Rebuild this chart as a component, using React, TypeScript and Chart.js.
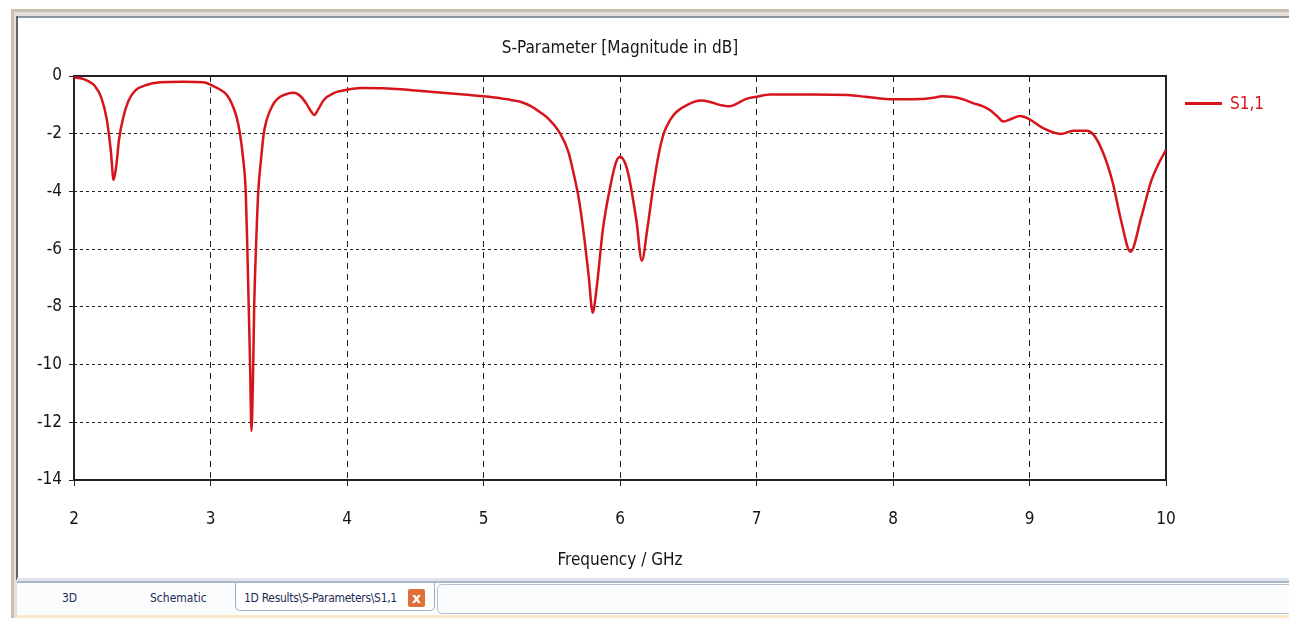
import React, { useEffect, useRef } from "react";
import { Chart, registerables } from "chart.js";

Chart.register(...registerables);

const freqGHz = [
  2.0, 2.05, 2.1, 2.15, 2.2, 2.24, 2.27, 2.29, 2.31, 2.33, 2.36, 2.4, 2.45, 2.53, 2.63, 2.8, 2.95,
  3.02, 3.08, 3.12, 3.16, 3.19, 3.216, 3.24, 3.258, 3.27, 3.28, 3.29, 3.3, 3.313, 3.32, 3.333,
  3.35, 3.37, 3.39, 3.41, 3.436, 3.47, 3.51, 3.56, 3.61, 3.66, 3.7, 3.74, 3.76, 3.79, 3.83, 3.9,
  4.0, 4.1, 4.3, 4.5, 4.7, 4.9, 5.0, 5.1, 5.2, 5.27, 5.35, 5.41, 5.48, 5.56, 5.62, 5.66, 5.7, 5.73,
  5.77, 5.8, 5.83, 5.875, 5.93, 5.97, 6.0, 6.04, 6.07, 6.12, 6.16, 6.2, 6.24, 6.28, 6.32, 6.37,
  6.415, 6.5, 6.59, 6.66, 6.73, 6.8, 6.86, 6.92, 7.0, 7.1, 7.4, 7.67, 7.8, 8.0, 8.2, 8.3, 8.36,
  8.44, 8.52, 8.59, 8.66, 8.71, 8.76, 8.81, 8.87, 8.93, 9.0, 9.1, 9.23, 9.32, 9.42, 9.47, 9.54,
  9.61, 9.67, 9.74, 9.82, 9.89, 9.95, 10.0,
];

const s11dB = [
  -0.05, -0.08, -0.17, -0.33, -0.75, -1.5, -2.6, -3.6, -3.1, -2.2, -1.45, -0.85, -0.5, -0.31, -0.22,
  -0.2, -0.22, -0.35, -0.5, -0.66, -1.0, -1.4, -2.0, -2.9, -4.0, -6.0, -8.0, -10.0, -12.3, -10.0,
  -8.0, -6.0, -4.0, -2.9, -2.0, -1.55, -1.2, -0.9, -0.72, -0.62, -0.58, -0.7, -0.94, -1.25, -1.35,
  -1.15, -0.83, -0.6, -0.48, -0.42, -0.43, -0.5, -0.58, -0.66, -0.7, -0.75, -0.83, -0.89, -1.05,
  -1.24, -1.5, -1.98, -2.6, -3.37, -4.3, -5.3, -6.9, -8.2, -7.3, -5.3, -3.8, -3.0, -2.8, -3.05,
  -3.6, -5.0, -6.4, -5.3, -3.95, -2.8, -2.0, -1.5, -1.24, -0.98, -0.85, -0.9, -1.0, -1.05, -0.95,
  -0.8, -0.72, -0.64, -0.64, -0.66, -0.72, -0.81, -0.8, -0.75, -0.7, -0.73, -0.82, -0.95, -1.05,
  -1.18, -1.38, -1.58, -1.48, -1.39, -1.5, -1.81, -2.01, -1.9, -1.9, -2.04, -2.67, -3.7, -4.99,
  -6.09, -4.87, -3.66, -3.0, -2.56,
];

const xTicks = [2, 3, 4, 5, 6, 7, 8, 9, 10];
const yTicks = [0, -2, -4, -6, -8, -10, -12, -14];

const chartTitle = "S-Parameter [Magnitude in dB]";
const xTitle = "Frequency / GHz";
const seriesName = "S1,1";
const tabLabels = ["3D", "Schematic", "1D Results\\S-Parameters\\S1,1"];

const FONT = "'Liberation Sans Narrow', 'Arial Narrow', 'DejaVu Sans Condensed', sans-serif";
const RED = "#d7141c";
const INK = "#151515";

const framePlugin = {
  id: "frameBox",
  beforeDatasetsDraw(chart: any) {
    const { ctx, chartArea } = chart;
    ctx.save();
    ctx.strokeStyle = "#222";
    ctx.lineWidth = 2;
    ctx.setLineDash([]);
    ctx.strokeRect(chartArea.left, chartArea.top, chartArea.right - chartArea.left, chartArea.bottom - chartArea.top);
    ctx.restore();
  },
};

function ChartCanvas() {
  const ref = useRef<HTMLCanvasElement | null>(null);
  useEffect(() => {
    if (!ref.current) return;
    const chart = new Chart(ref.current, {
      type: "line",
      data: {
        datasets: [
          {
            label: seriesName,
            data: freqGHz.map((f, i) => ({ x: f, y: s11dB[i] })),
            borderColor: RED,
            backgroundColor: RED,
            borderWidth: 2.5,
            pointRadius: 0,
            cubicInterpolationMode: "monotone",
            fill: false,
          },
        ],
      },
      options: {
        animation: false,
        responsive: false,
        maintainAspectRatio: false,
        layout: { padding: { left: 0, right: 123, top: 0, bottom: 0 } },
        plugins: {
          legend: { display: false },
          tooltip: { enabled: false },
          title: {
            display: true,
            text: chartTitle,
            fullSize: false,
            color: INK,
            font: { family: FONT, size: 17, weight: "normal" },
            padding: { top: 38, bottom: 17.6 },
          },
        },
        scales: {
          x: {
            type: "linear",
            min: 2,
            max: 10,
            afterBuildTicks: (scale: any) => {
              scale.ticks = xTicks.map((v) => ({ value: v }));
            },
            afterFit: (scale: any) => {
              scale.height = 98;
            },
            ticks: {
              color: INK,
              font: { family: FONT, size: 17 },
              padding: 23,
              maxRotation: 0,
              callback: (v: any) => String(v),
            },
            grid: {
              color: "#222",
              lineWidth: 1,
              tickLength: 6,
              tickColor: "#222",
              tickBorderDash: [],
              borderDash: [6, 5],
            } as any,
            border: { display: false, dash: [6, 5] },
            title: {
              display: true,
              text: xTitle,
              color: INK,
              font: { family: FONT, size: 17 },
              padding: { top: 0, bottom: 7 },
            },
          },
          y: {
            type: "linear",
            min: -14,
            max: 0,
            afterBuildTicks: (scale: any) => {
              scale.ticks = yTicks.map((v) => ({ value: v }));
            },
            afterFit: (scale: any) => {
              scale.width = 74;
            },
            ticks: {
              color: INK,
              font: { family: FONT, size: 17 },
              padding: 7,
              callback: (v: any) => String(v),
            },
            grid: {
              color: "#222",
              lineWidth: 1,
              tickLength: 5,
              tickColor: "#222",
              tickBorderDash: [],
              borderDash: [3, 3],
            } as any,
            border: { display: false, dash: [3, 3] },
          },
        },
      } as any,
      plugins: [framePlugin],
    });
    return () => chart.destroy();
  }, []);
  return (
    <canvas
      ref={ref}
      width={1289}
      height={578}
      style={{ position: "absolute", left: 0, top: 0, width: 1289, height: 578 }}
    />
  );
}

export default function App() {
  return (
    <div
      style={{
        position: "fixed",
        left: 0,
        top: 0,
        width: 1289,
        height: 618,
        background: "#ffffff",
        overflow: "hidden",
        fontFamily: FONT,
      }}
    >
      {/* window frame */}
      <div style={{ position: "absolute", left: 11, top: 9, right: 0, height: 3, background: "#cbbfae" }} />
      <div style={{ position: "absolute", left: 11, top: 12, right: 0, height: 4, background: "#e4e1dc" }} />
      <div style={{ position: "absolute", left: 16, top: 16, right: 0, height: 2, background: "#8e979d" }} />
      <div style={{ position: "absolute", left: 11, top: 9, width: 3, height: 609, background: "#cbbfae" }} />
      <div style={{ position: "absolute", left: 14, top: 12, width: 3, height: 606, background: "#e4e1dc" }} />
      <div style={{ position: "absolute", left: 16, top: 16, width: 2, height: 564, background: "#5f666b" }} />
      {/* bottom tab strip */}
      <div style={{ position: "absolute", left: 17, top: 578, right: 0, height: 3, background: "#dfe6ee" }} />
      <div style={{ position: "absolute", left: 17, top: 581, right: 0, height: 2, background: "#a9b6c4" }} />
      <div style={{ position: "absolute", left: 17, top: 583, right: 0, height: 32, background: "#fbfcfe" }} />
      <div style={{ position: "absolute", left: 17, top: 615, right: 0, height: 3, background: "#fbe9c8" }} />
      <div style={{ position: "absolute", left: 62, top: 588, fontSize: 12, color: "#1d2c55", lineHeight: "20px" }}>
        {tabLabels[0]}
      </div>
      <div style={{ position: "absolute", left: 150, top: 588, fontSize: 12, color: "#1d2c55", lineHeight: "20px" }}>
        {tabLabels[1]}
      </div>
      <div
        style={{
          position: "absolute",
          left: 235,
          top: 583,
          width: 198,
          height: 27,
          background: "#ffffff",
          border: "1px solid #9fb0c2",
          borderTop: "none",
          borderRadius: "0 0 5px 5px",
        }}
      />
      <div
        style={{
          position: "absolute",
          left: 244,
          top: 588,
          fontSize: 12,
          letterSpacing: -0.3,
          whiteSpace: "nowrap",
          color: "#1d2c55",
          lineHeight: "20px",
        }}
      >
        {tabLabels[2]}
      </div>
      <div
        style={{
          position: "absolute",
          left: 408,
          top: 589,
          width: 17,
          height: 18,
          background: "#e0703a",
          borderRadius: 2,
          color: "#ffffff",
          fontSize: 14,
          fontWeight: "bold",
          lineHeight: "18px",
          textAlign: "center",
          fontFamily: "'DejaVu Sans', sans-serif",
        }}
      >
        x
      </div>
      <div
        style={{
          position: "absolute",
          left: 437,
          top: 584,
          width: 900,
          height: 28,
          border: "1px solid #b5c2d0",
          borderRadius: 5,
        }}
      />
      <ChartCanvas />
      {/* legend */}
      <div style={{ position: "absolute", left: 1185, top: 102, width: 37, height: 3, background: RED }} />
      <div style={{ position: "absolute", left: 1230, top: 92, fontSize: 17, color: RED, lineHeight: "22px" }}>
        {seriesName}
      </div>
    </div>
  );
}
